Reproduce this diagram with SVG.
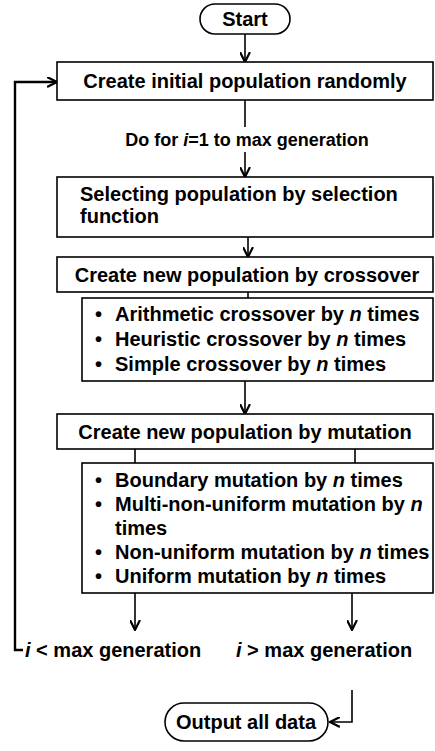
<svg xmlns="http://www.w3.org/2000/svg" width="435" height="751" viewBox="0 0 435 751">
<defs>
<marker id="ah" viewBox="0 0 10 10" refX="9.5" refY="5" markerWidth="11" markerHeight="11" markerUnits="userSpaceOnUse" orient="auto">
<path d="M0.5,0.5 L9.5,5 L0.5,9.5" fill="none" stroke="#000" stroke-width="2"/>
</marker>
<style>
.box{fill:#fff;stroke:#000;stroke-width:1.6}
.t{font-family:"Liberation Sans",Arial,sans-serif;font-weight:bold;font-size:20px;fill:#000}
.c{text-anchor:middle}
.ln{fill:none;stroke:#000;stroke-width:1.6}
.ar{fill:none;stroke:#000;stroke-width:1.6;marker-end:url(#ah)}
</style>
</defs>
<rect width="435" height="751" fill="#fff"/>
<g id="connectors">
<path class="ar" d="M245,34 V62"/>
<path class="ln" d="M245,100 V127"/>
<path class="ar" d="M245,152 V177"/>
<path class="ar" d="M248,237 V257"/>
<path class="ln" d="M248,292 V298"/>
<path class="ar" d="M245,381 V414"/>
<path class="ln" d="M135,449 V463"/>
<path class="ln" d="M355,449 V463"/>
<path class="ar" d="M135,593 V630"/>
<path class="ar" d="M352,593 V630"/>
<path class="ar" d="M23,650 H15 V82 H57" style="stroke-width:2.4"/>
<path class="ar" d="M352,690 V722 H330"/>
</g>
<g id="start">
<rect class="box" x="200" y="4" width="90" height="30" rx="15"/>
<text class="t c" x="245" y="26">Start</text>
</g>
<g id="init">
<rect class="box" x="57" y="62" width="376" height="38"/>
<text class="t c" x="245" y="88">Create initial population randomly</text>
</g>
<g id="loop">
<text class="t c" x="247" y="146" style="font-size:18px">Do for <tspan font-style="italic">i</tspan>=1 to max generation</text>
</g>
<g id="select">
<rect class="box" x="57" y="177" width="376" height="60"/>
<text class="t" x="80" y="201">Selecting population by selection</text>
<text class="t" x="80" y="223">function</text>
</g>
<g id="crossover">
<rect class="box" x="57" y="257" width="376" height="35"/>
<text class="t c" x="247" y="282">Create new population by crossover</text>
</g>
<g id="crossover-list">
<rect class="box" x="82" y="298" width="351" height="83"/>
<text class="t" x="95" y="321">•</text><text class="t" x="115" y="321">Arithmetic crossover by <tspan font-style="italic">n</tspan> times</text>
<text class="t" x="95" y="346">•</text><text class="t" x="115" y="346">Heuristic crossover by <tspan font-style="italic">n</tspan> times</text>
<text class="t" x="95" y="371">•</text><text class="t" x="115" y="371">Simple crossover by <tspan font-style="italic">n</tspan> times</text>
</g>
<g id="mutation">
<rect class="box" x="57" y="414" width="376" height="35"/>
<text class="t c" x="245" y="439">Create new population by mutation</text>
</g>
<g id="mutation-list">
<rect class="box" x="82" y="463" width="351" height="130"/>
<text class="t" x="95" y="487">•</text><text class="t" x="115" y="487">Boundary mutation by <tspan font-style="italic">n</tspan> times</text>
<text class="t" x="95" y="511">•</text><text class="t" x="115" y="511">Multi-non-uniform mutation by <tspan font-style="italic">n</tspan></text>
<text class="t" x="115" y="535">times</text>
<text class="t" x="95" y="559">•</text><text class="t" x="115" y="559">Non-uniform mutation by <tspan font-style="italic">n</tspan> times</text>
<text class="t" x="95" y="583">•</text><text class="t" x="115" y="583">Uniform mutation by <tspan font-style="italic">n</tspan> times</text>
</g>
<g id="lt">
<text class="t" x="25" y="657"><tspan font-style="italic">i</tspan> &lt; max generation</text>
</g>
<g id="gt">
<text class="t" x="236" y="657"><tspan font-style="italic">i</tspan> &gt; max generation</text>
</g>
<g id="output">
<rect class="box" x="165" y="703" width="163" height="38" rx="19"/>
<text class="t c" x="246" y="729">Output all data</text>
</g>
</svg>
